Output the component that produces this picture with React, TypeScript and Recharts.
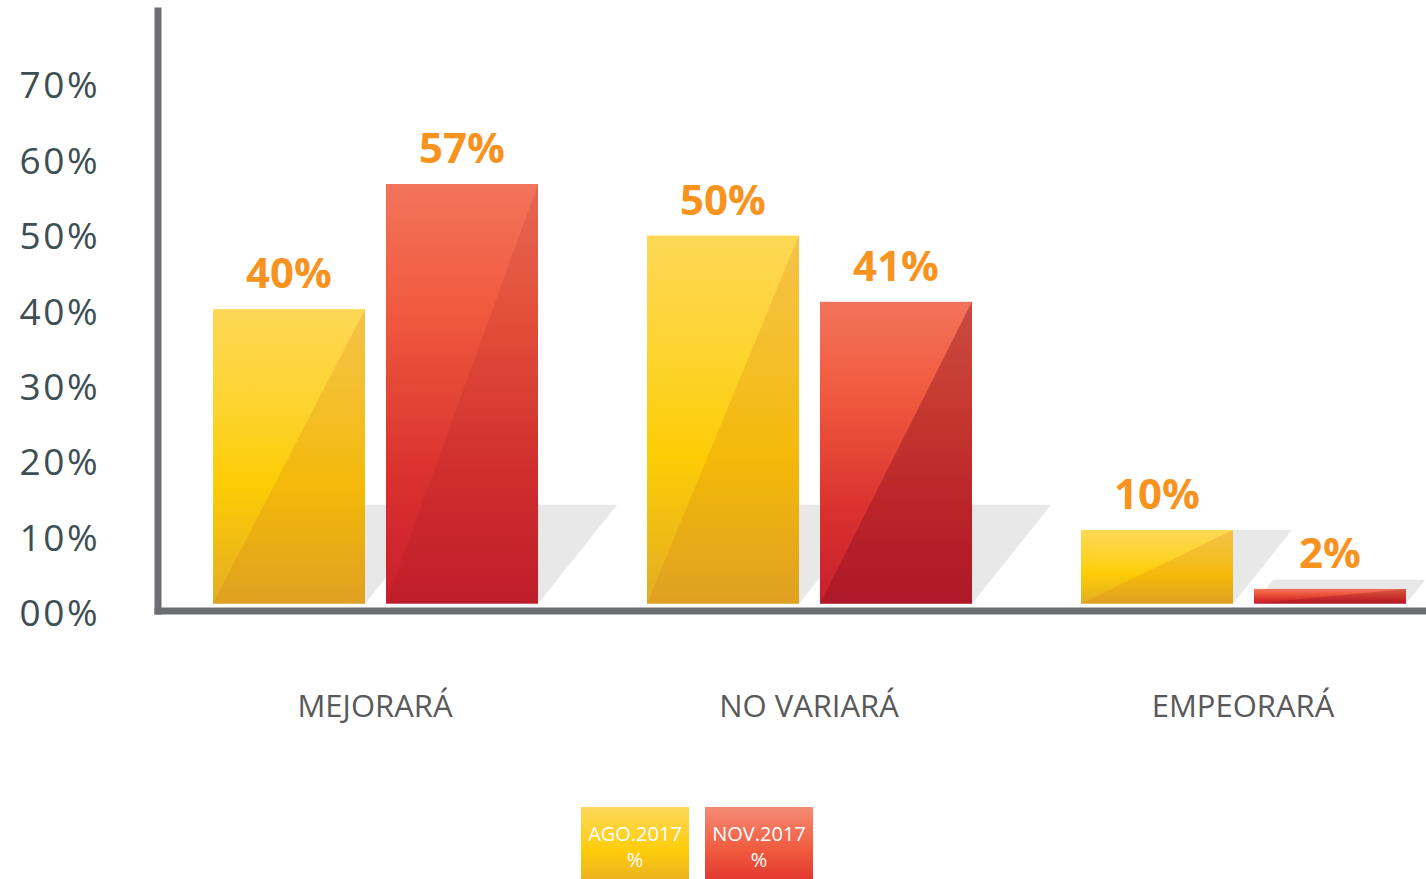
import { Bar, BarChart, LabelList, Legend, XAxis, YAxis } from 'recharts'

const CATEGORIES = ['MEJORARÁ', 'NO VARIARÁ', 'EMPEORARÁ']
const AGO_2017 = [40, 50, 10]
const NOV_2017 = [57, 41, 2]
const Y_TICKS = [0, 10, 20, 30, 40, 50, 60, 70]
const SERIES_LABELS = ['AGO.2017', 'NOV.2017']

const data = CATEGORIES.map((name, i) => ({ name, ago: AGO_2017[i], nov: NOV_2017[i] }))

const FONT = '"Open Sans", sans-serif'
const AXIS_GREY = '#6d6e71'

// darker triangle on the right side of each bar, per category
const RED_SHADE = [0.12, 0.4, 0.3]

function GlossyBar(props: any) {
  const { x, y, width, height, index, kind } = props
  if (!width || height == null) return null
  const base = y + height
  const sh = Math.min(Math.max(height, 24), 99)
  const dx = sh * 0.8
  const isRed = kind === 'nov'
  return (
    <g>
      <polygon
        points={`${x},${base} ${x + width},${base} ${x + width + dx},${base - sh} ${x + dx},${base - sh}`}
        fill="#e8e8e8"
      />
      <rect x={x} y={y} width={width} height={height} fill={isRed ? 'url(#gradNov)' : 'url(#gradAgo)'} />
      <polygon
        points={`${x},${base} ${x + width},${y} ${x + width},${base}`}
        fill={isRed ? '#8a1020' : '#d4771a'}
        fillOpacity={isRed ? RED_SHADE[index] : 0.22}
      />
    </g>
  )
}

// the printed tick labels sit on a slightly looser grid than the bars
function YTick(props: any) {
  const { x, y, payload } = props
  const v = payload.value
  const shift = -3.4 + ((70 - v) / 70) * 12.8
  return (
    <text
      x={x}
      y={y + shift}
      dy="0.36em"
      textAnchor="end"
      fill="#3d4e54"
      fontSize={37}
      fontFamily={FONT}
      letterSpacing={2.5}
    >
      {v === 0 ? '00%' : `${v}%`}
    </text>
  )
}

function LegendBoxes() {
  const bgs = [
    'linear-gradient(to bottom, #fed85c 0%, #fdcd0a 60%, #ebb420 100%)',
    'linear-gradient(to bottom, #f58b74 0%, #f05a3e 60%, #e23a30 100%)',
  ]
  return (
    <div style={{ display: 'flex', gap: 16 }}>
      {SERIES_LABELS.map((label, i) => (
        <div
          key={label}
          style={{
            width: 108,
            height: 72,
            background: bgs[i],
            color: '#fff',
            fontFamily: FONT,
            fontSize: 20,
            lineHeight: '26px',
            paddingTop: 14,
            boxSizing: 'border-box',
            display: 'flex',
            flexDirection: 'column',
            alignItems: 'center',
          }}
        >
          <span>{label}</span>
          <span>%</span>
        </div>
      ))}
    </div>
  )
}

const valueLabelStyle = { fontSize: 42, fontWeight: 700, fontFamily: FONT }

export default function App() {
  return (
    <div style={{ position: 'fixed', left: 0, top: 0, width: 1426, height: 879, overflow: 'hidden', background: '#fff' }}>
      <BarChart
        width={1460}
        height={879}
        data={data}
        margin={{ top: 11, right: 0, bottom: 148, left: 0 }}
        barSize={152}
        barGap={21}
      >
        <defs>
          <linearGradient id="gradAgo" x1="0" y1="0" x2="0" y2="1">
            <stop offset="0%" stopColor="#fed856" />
            <stop offset="35%" stopColor="#fdd32c" />
            <stop offset="60%" stopColor="#fdcc05" />
            <stop offset="100%" stopColor="#e2ad24" />
          </linearGradient>
          <linearGradient id="gradNov" x1="0" y1="0" x2="0" y2="1">
            <stop offset="0%" stopColor="#f2745c" />
            <stop offset="30%" stopColor="#f05a3e" />
            <stop offset="70%" stopColor="#d9312f" />
            <stop offset="100%" stopColor="#c81f2e" />
          </linearGradient>
        </defs>
        <XAxis
          dataKey="name"
          interval={0}
          height={120}
          axisLine={{ stroke: AXIS_GREY, strokeWidth: 7, strokeLinecap: 'square' }}
          tickLine={false}
          tickSize={0}
          tickMargin={84}
          tick={{ fill: '#58595b', fontSize: 31, fontFamily: FONT }}
        />
        <YAxis
          domain={[-1, 80.5]}
          ticks={Y_TICKS}
          width={158}
          axisLine={{ stroke: AXIS_GREY, strokeWidth: 7, strokeLinecap: 'square' }}
          tickLine={false}
          tickSize={0}
          tickMargin={58}
          tick={<YTick />}
        />
        <Legend
          layout="horizontal"
          verticalAlign="middle"
          align="center"
          content={<LegendBoxes />}
          wrapperStyle={{ top: 807, left: 581, width: 240 }}
        />
        <Bar dataKey="ago" isAnimationActive={false} shape={(p: any) => <GlossyBar {...p} kind="ago" />}>
          <LabelList
            dataKey="ago"
            position="top"
            offset={21}
            formatter={(v: any) => `${v}%`}
            fill="#f7931e"
            style={valueLabelStyle}
          />
        </Bar>
        <Bar dataKey="nov" isAnimationActive={false} shape={(p: any) => <GlossyBar {...p} kind="nov" />}>
          <LabelList
            dataKey="nov"
            position="top"
            offset={21}
            formatter={(v: any) => `${v}%`}
            fill="#f7931e"
            style={valueLabelStyle}
          />
        </Bar>
      </BarChart>
    </div>
  )
}
